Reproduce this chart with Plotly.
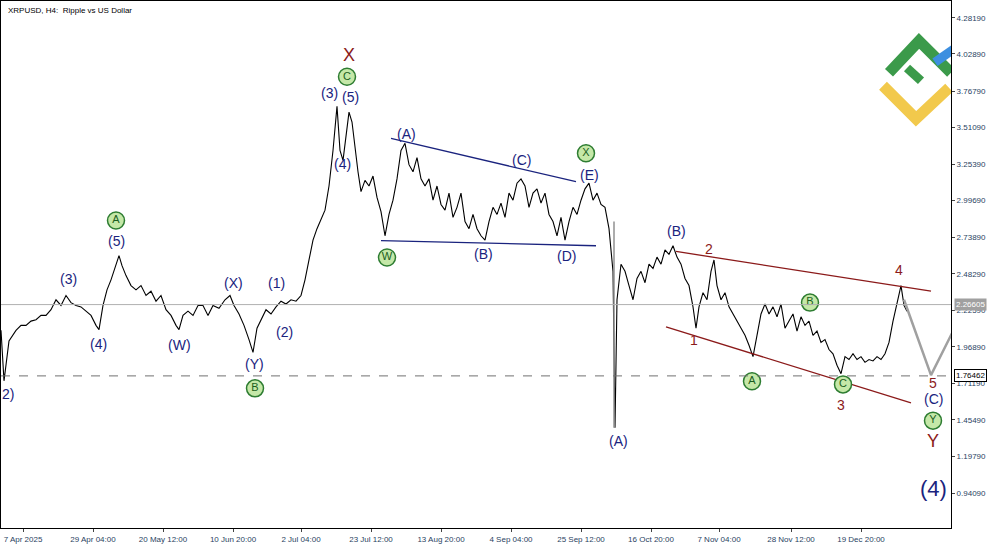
import plotly.graph_objects as go

bar_x = [0,3,8,15,20,25,30,35,40,45,50,55,60,65,70,75,80,85,90,95,98,102,106,110,114,118,121,125,130,135,140,145,150,155,160,165,170,175,178,182,187,192,197,202,207,212,218,224,229,233,238,243,248,252,256,260,265,270,275,280,285,290,295,300,304,308,312,316,320,324,328,332,336,339,342,345,348,351,354,357,360,364,368,372,376,380,384,388,392,396,400,404,408,412,416,420,424,428,432,436,440,444,448,452,456,460,464,468,472,476,480,484,488,492,496,500,504,508,512,516,520,524,528,532,536,540,544,548,552,556,560,564,568,572,576,580,584,588,592,596,600,604,608,612,614,616,620,624,628,632,636,640,644,648,652,656,660,664,668,672,676,680,684,688,692,695,698,702,706,710,713,716,720,724,728,732,736,740,744,748,752,756,760,764,768,772,776,780,784,788,792,796,800,804,808,812,816,820,824,828,832,836,840,844,848,852,856,860,864,868,872,876,880,884,888,892,896,900,903,906]
close = [2.085,1.73,2.01,2.085,2.12,2.12,2.15,2.16,2.19,2.19,2.23,2.30,2.26,2.33,2.28,2.26,2.25,2.22,2.19,2.12,2.09,2.26,2.37,2.44,2.52,2.61,2.54,2.47,2.40,2.37,2.40,2.33,2.36,2.29,2.33,2.23,2.19,2.12,2.09,2.19,2.22,2.19,2.26,2.26,2.19,2.26,2.24,2.30,2.33,2.26,2.20,2.12,2.02,1.93,2.10,2.16,2.23,2.20,2.25,2.29,2.27,2.30,2.29,2.33,2.44,2.58,2.72,2.80,2.86,2.93,3.10,3.35,3.66,3.35,3.28,3.45,3.62,3.55,3.35,3.20,3.06,3.14,3.10,3.17,3.02,2.92,2.75,2.90,3.00,3.15,3.35,3.40,3.25,3.20,3.30,3.15,3.10,3.15,3.00,3.10,2.97,2.93,3.05,2.88,2.95,3.05,2.85,2.80,2.90,2.80,2.75,2.72,2.85,2.95,2.90,2.98,2.88,3.05,3.00,3.12,3.15,3.10,2.95,3.05,3.08,2.98,3.05,2.90,2.85,2.75,2.88,2.72,2.85,2.95,2.90,3.00,3.08,3.12,3.00,3.05,2.97,2.95,2.80,2.50,1.40,2.30,2.55,2.50,2.40,2.30,2.45,2.50,2.42,2.55,2.52,2.60,2.55,2.65,2.62,2.68,2.60,2.55,2.45,2.40,2.25,2.10,2.25,2.35,2.30,2.50,2.58,2.40,2.30,2.35,2.25,2.20,2.15,2.10,2.05,1.98,1.90,2.05,2.20,2.27,2.20,2.25,2.18,2.27,2.10,2.15,2.20,2.08,2.18,2.12,2.15,2.05,2.08,2.00,2.02,1.95,1.92,1.84,1.78,1.90,1.88,1.92,1.88,1.90,1.86,1.88,1.87,1.90,1.88,1.92,2.00,2.15,2.28,2.40,2.26,2.22]

y_ticks = [4.28190,4.02890,3.76790,3.51090,3.25390,2.99690,2.73890,2.48290,2.22590,1.96890,1.71190,1.45490,1.19790,0.94090]
x_tick_pos = [22,92,162,232,300,370,440,510,580,650,718,790,860]
x_tick_lab = ["7 Apr 2025","29 Apr 04:00","20 May 12:00","10 Jun 20:00","2 Jul 04:00","23 Jul 12:00","13 Aug 20:00","4 Sep 04:00","25 Sep 12:00","16 Oct 20:00","7 Nov 04:00","28 Nov 12:00","19 Dec 20:00"]
last_price = 2.26605
level_price = 1.76462

navy_labels = [("(3)",67,2.449),("(4)",97,1.99),("(5)",115,2.716),("(W)",178,1.98),("(X)",232,2.415),("(Y)",253,1.85),("(1)",275,2.415),("(2)",283,2.07),("(3)",328,3.755),("(5)",349,3.727),("(4)",341,3.257),("(A)",405,3.468),("(C)",520,3.285),("(E)",588,3.18),("(B)",482,2.625),("(D)",565,2.61),("(B)",675,2.787),("(A)",617,1.305),("(C)",932,1.60),("2)",7,1.64)]
green_labels = [("A",115,2.857),("B",254,1.677),("C",346,3.868),("W",386,2.597),("X",585,3.33),("B",809,2.28),("A",751,1.727),("C",842,1.705),("Y",932,1.45)]
red_labels = [("X",348,4.022),("2",708,2.66),("1",693,2.014),("4",898,2.506),("3",840,1.558),("5",932,1.715),("Y",932,1.31)]

fig = go.Figure()
fig.add_trace(go.Scatter(x=bar_x, y=close, mode="lines", line=dict(color="black", width=1.1), hoverinfo="skip"))
fig.add_trace(go.Scatter(x=[903,930,965], y=[2.30,1.77,2.26], mode="lines", line=dict(color="#a0a0a0", width=2.5)))
for (x0,y0,x1,y1,c) in [(390,3.435,575,3.13,"#1a237e"),(380,2.716,595,2.68,"#1a237e"),(675,2.64,930,2.36,"#8b1a1a"),(665,2.11,910,1.575,"#8b1a1a")]:
    fig.add_trace(go.Scatter(x=[x0,x1], y=[y0,y1], mode="lines", line=dict(color=c, width=1.3)))
fig.add_trace(go.Scatter(x=[613,613], y=[2.85,1.40], mode="lines", line=dict(color="#909090", width=1.5)))

fig.add_hline(y=last_price, line=dict(color="#b0b0b0", width=1))
fig.add_hline(y=level_price, line=dict(color="#707070", width=1, dash="dash"))

for t,x,y in navy_labels:
    fig.add_annotation(x=x,y=y,text=t,showarrow=False,font=dict(color="#1a237e",size=14,family="Arial"))
fig.add_annotation(x=932,y=0.975,text="(4)",showarrow=False,font=dict(color="#1a237e",size=22,family="Arial"))
for t,x,y in red_labels:
    fig.add_annotation(x=x,y=y,text=t,showarrow=False,font=dict(color="#8b1a1a",size=18 if t in "XY" else 14,family="Arial"))
fig.add_trace(go.Scatter(x=[g[1] for g in green_labels], y=[g[2] for g in green_labels], mode="markers+text",
    text=[g[0] for g in green_labels], textposition="middle center", textfont=dict(color="#1b5e20", size=11),
    marker=dict(size=17, color="#c5e8a8", line=dict(color="#2e7d32", width=1.5))))

fig.add_trace(go.Scatter(x=[888,918,950], y=[3.896,4.12,3.896], mode="lines", line=dict(color="#3b9a4a", width=11)))
fig.add_trace(go.Scatter(x=[934,958], y=[3.97,4.09], mode="lines", line=dict(color="#3d8fe0", width=9)))
fig.add_trace(go.Scatter(x=[882,915,948], y=[3.805,3.573,3.79], mode="lines", line=dict(color="#f2c94c", width=11)))
fig.add_trace(go.Scatter(x=[906,920], y=[3.93,3.84], mode="lines", line=dict(color="#3b9a4a", width=9)))

fig.add_annotation(x=1.003,xref="paper",y=last_price,text="2.26605",showarrow=False,xanchor="left",
    font=dict(size=8,color="white"),bgcolor="#a0a0a0")
fig.add_annotation(x=1.003,xref="paper",y=level_price,text="1.76462",showarrow=False,xanchor="left",
    font=dict(size=8,color="black"),bgcolor="white",bordercolor="black",borderwidth=1)
fig.add_annotation(x=0.005,xref="paper",y=0.995,yref="paper",text="XRPUSD, H4:  Ripple vs US Dollar",showarrow=False,
    xanchor="left",yanchor="top",font=dict(size=8,color="black"))

fig.update_layout(width=1000,height=545,showlegend=False,plot_bgcolor="white",paper_bgcolor="white",
    margin=dict(l=1,r=49,t=1,b=17,autoexpand=False),font=dict(family="Arial"))
fig.update_xaxes(range=[0,950],tickvals=x_tick_pos,ticktext=x_tick_lab,showgrid=False,zeroline=False,automargin=False,
    showline=True,linecolor="black",mirror=True,tickfont=dict(size=8),ticks="outside",ticklen=3)
fig.update_yaxes(range=[0.695,4.401],side="right",tickvals=y_ticks,ticktext=[f"{v:.5f}" for v in y_ticks],automargin=False,
    showgrid=False,zeroline=False,showline=True,linecolor="black",mirror=True,tickfont=dict(size=8),ticks="outside",ticklen=3)
fig.write_html("out.html", config={"displayModeBar": False},
    post_script="document.body.style.margin='0';document.body.style.overflow='hidden';")
